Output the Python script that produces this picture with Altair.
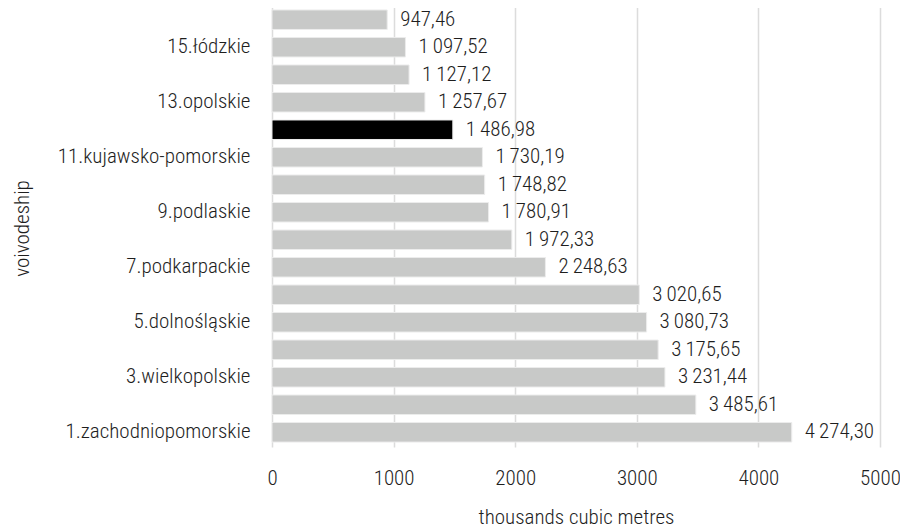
import altair as alt
import pandas as pd

names = [
    "16.świętokrzyskie", "15.łódzkie", "14.małopolskie", "13.opolskie",
    "12.śląskie", "11.kujawsko-pomorskie", "10.lubelskie", "9.podlaskie",
    "8.mazowieckie", "7.podkarpackie", "6.lubuskie", "5.dolnośląskie",
    "4.pomorskie", "3.wielkopolskie", "2.warmińsko-mazurskie", "1.zachodniopomorskie",
]
values = [
    947.46, 1097.52, 1127.12, 1257.67,
    1486.98, 1730.19, 1748.82, 1780.91,
    1972.33, 2248.63, 3020.65, 3080.73,
    3175.65, 3231.44, 3485.61, 4274.30,
]
highlight = "12.śląskie"
shown_labels = [n for n in names if int(n.split(".")[0]) % 2 == 1]
x_ticks = [0, 1000, 2000, 3000, 4000, 5000]


def fmt(v):
    s = f"{v:,.2f}"
    return s.replace(",", "\u2009").replace(".", ",")


df = pd.DataFrame({
    "name": names,
    "value": values,
    "label": [fmt(v) for v in values],
    "hl": [n == highlight for n in names],
})

FONT = "Roboto Condensed, Liberation Sans Narrow, Roboto"
FS = 21
W = 300
TC = "#1e1e1e"

y_enc = alt.Y(
    "name:N",
    sort=names,
    scale=alt.Scale(paddingInner=0.29, paddingOuter=0.18),
    axis=alt.Axis(
        values=shown_labels,
        title="voivodeship",
        ticks=False,
        domain=False,
        labelPadding=22,
        labelLimit=400,
        labelFontSize=FS,
        labelFont=FONT,
        labelFontWeight=W,
        labelColor=TC,
        titleFont=FONT,
        titleFontSize=FS,
        titleFontWeight=W,
        titleColor=TC,
        titleAngle=-90,
        titleBaseline="middle",
        titleX=-250,
        titleY=223,
        grid=False,
    ),
)

x_scale = alt.Scale(domain=[0, 5000], nice=False)

bars = alt.Chart(df).mark_bar(stroke="#ececec", strokeWidth=1).encode(
    x=alt.X(
        "value:Q",
        scale=x_scale,
        axis=alt.Axis(
            values=x_ticks,
            format="d",
            title="thousands cubic metres",
            ticks=False,
            domain=False,
            grid=True,
            gridColor="#dcdcdc",
            gridWidth=1.5,
            labelFlush=False,
            labelPadding=20,
            labelFontSize=FS,
            labelFont=FONT,
            labelFontWeight=W,
            labelColor=TC,
            titleFont=FONT,
            titleFontSize=FS,
            titleFontWeight=W,
            titleColor=TC,
            titlePadding=18,
        ),
    ),
    y=y_enc,
    color=alt.condition(alt.datum.hl, alt.value("#000000"), alt.value("#c8c9c8")),
)

labels = alt.Chart(df).mark_text(
    align="left", baseline="middle", dx=13, fontSize=FS, font=FONT,
    fontWeight=W, color=TC,
).encode(
    x=alt.X("value:Q", scale=x_scale),
    y=alt.Y("name:N", sort=names),
    text="label:N",
)

chart = (bars + labels).properties(
    width=608,
    height=442,
    autosize=alt.AutoSizeParams(type="none"),
    padding={"left": 264, "top": -3, "right": 20, "bottom": 90},
).configure_view(stroke=None)

chart.save("out.html", embed_options={"renderer": "svg", "actions": False})
